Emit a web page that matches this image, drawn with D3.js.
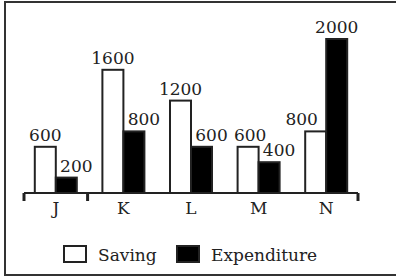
<!DOCTYPE html>
<html>
<head>
<meta charset="utf-8">
<script src="https://cdn.jsdelivr.net/npm/d3@7"></script>
<style>
  body { margin: 0; background: #fff; }
  svg { display: block; }
  text { font-family: "DejaVu Serif", serif; fill: #222; }
</style>
</head>
<body>
<svg width="396" height="279"></svg>
<script>
const categories = ["J", "K", "L", "M", "N"];
const series = ["Saving", "Expenditure"];
const saving = [600, 1600, 1200, 600, 800];
const expenditure = [200, 800, 600, 400, 2000];

const svg = d3.select("svg");

// frame (right edge is cut off in the original)
svg.append("rect")
  .attr("x", 5).attr("y", 2)
  .attr("width", 400).attr("height", 273)
  .attr("fill", "none").attr("stroke", "#333").attr("stroke-width", 2);

const x0 = d3.scaleBand().domain(categories).range([22, 360]);
const x1 = d3.scaleBand().domain(series).range([0, 42]);
const y = d3.scaleLinear().domain([0, 2000]).range([193, 39]);

const rows = categories.map((c, i) => ({c, values: [saving[i], expenditure[i]]}));

const groups = svg.append("g").selectAll("g")
  .data(rows)
  .enter()
  .append("g")
  .attr("transform", d => `translate(${x0(d.c) + x0.bandwidth() / 2 - 21},0)`);

groups.selectAll("rect")
  .data(d => d.values.map((v, j) => ({s: series[j], v})))
  .enter()
  .append("rect")
  .attr("x", d => x1(d.s))
  .attr("y", d => y(d.v))
  .attr("width", x1.bandwidth())
  .attr("height", d => y(0) - y(d.v))
  .attr("fill", d => d.s === "Saving" ? "#fff" : "#000")
  .attr("stroke", "#222")
  .attr("stroke-width", 2);

// value labels: expenditure ones sit right of the bar, N saving is pushed left
const nudge = {"M-Saving": 2, "N-Saving": -14, "N-Expenditure": -10};
groups.selectAll("text")
  .data(d => d.values.map((v, j) => ({c: d.c, s: series[j], v})))
  .enter()
  .append("text")
  .attr("x", d => x1(d.s) + x1.bandwidth() / 2 + (d.s === "Expenditure" ? 10 : 0) + (nudge[d.c + "-" + d.s] || 0))
  .attr("y", d => y(d.v) - 6)
  .attr("text-anchor", "middle")
  .attr("font-size", 17)
  .text(d => d.v);

// baseline + the few tick marks
const base = svg.append("g").attr("stroke", "#222");
base.append("line")
  .attr("x1", x0.range()[0] + 2).attr("x2", x0.range()[1] - 2)
  .attr("y1", 193).attr("y2", 193).attr("stroke-width", 2);
[x0.range()[0] + 2, x0("K") - 2, x0.range()[1] - 2].forEach(t => {
  base.append("line")
    .attr("x1", t).attr("x2", t)
    .attr("y1", 193).attr("y2", 201).attr("stroke-width", 3);
});

const axis = svg.append("g")
  .attr("transform", "translate(0,193)")
  .call(d3.axisBottom(x0).tickSize(0).tickPadding(9));
axis.select(".domain").remove();
axis.selectAll(".tick line").remove();
axis.selectAll("text")
  .attr("font-family", "DejaVu Serif")
  .attr("font-size", 17)
  .attr("fill", "#222");

// legend
const legend = svg.append("g").attr("transform", "translate(64,246)");
legend.append("rect").attr("x", 0).attr("y", 0).attr("width", 22).attr("height", 16)
  .attr("fill", "#fff").attr("stroke", "#222").attr("stroke-width", 2);
legend.append("text").attr("x", 34).attr("y", 15).attr("font-size", 17).text("Saving");
legend.append("rect").attr("x", 113).attr("y", 0).attr("width", 22).attr("height", 16)
  .attr("fill", "#000").attr("stroke", "#222").attr("stroke-width", 2);
legend.append("text").attr("x", 147).attr("y", 15).attr("font-size", 17).text("Expenditure");
</script>
</body>
</html>
